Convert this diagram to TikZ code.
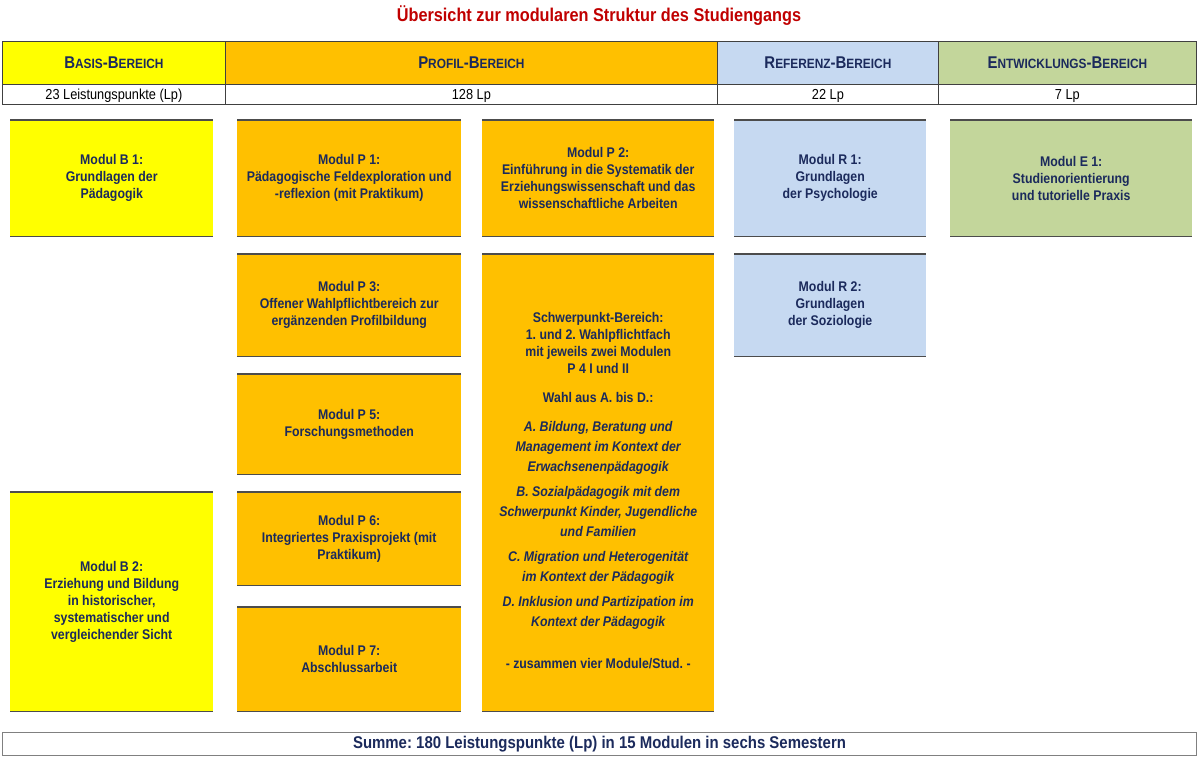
\documentclass[tikz,border=0pt]{standalone}
\usepackage{fontspec}
\setmainfont[FakeStretch=0.88]{Liberation Sans}
\usepackage{tikz}
\usetikzlibrary{positioning}
\definecolor{navy}{HTML}{1B2A5C}
\definecolor{titelrot}{HTML}{C00000}
\definecolor{basis}{HTML}{FFFF00}
\definecolor{profil}{HTML}{FFC000}
\definecolor{referenz}{HTML}{C6D9F1}
\definecolor{entwicklung}{HTML}{C3D69B}
\newcommand{\ksc}[2]{#1{\fontsize{13.5}{14}\selectfont #2}}
\frenchspacing

\begin{document}
\begin{tikzpicture}[x=1pt, y=-1pt,
		Kopf/.style={
			draw=black!75,
			line width=0.8pt,
			anchor=north west,
			inner sep=0pt,
			minimum height=43pt,
			text=navy,
			font=\bfseries\fontsize{17}{18}\selectfont
		},
		Lp/.style={
			draw=black!75,
			line width=0.8pt,
			anchor=north west,
			inner sep=0pt,
			minimum height=20pt,
			text depth=0pt,
			font=\fontsize{14.5}{15}\selectfont
		},
		Modul/.style={
			anchor=north west,
			inner sep=0pt,
			align=center,
			text=navy,
			font=\bfseries\fontsize{14}{17}\selectfont
		},
		Kante/.style={draw=black!70, line width=1.1pt}
		]
		\useasboundingbox (0,0) rectangle (1200,758);
		\node[text=titelrot, font=\bfseries\fontsize{18.5}{20}\selectfont] (titel) at (599,16) {Übersicht zur modularen Struktur des Studiengangs};
		% Kopfzeile
		\node[Kopf, fill=basis, minimum width=223pt] (kB) at (2,41) {\ksc{B}{ASIS}-\ksc{B}{EREICH}};
		\node[Kopf, fill=profil, minimum width=492pt] (kP) at (225,41) {\ksc{P}{ROFIL}-\ksc{B}{EREICH}};
		\node[Kopf, fill=referenz, minimum width=221pt] (kR) at (717,41) {\ksc{R}{EFERENZ}-\ksc{B}{EREICH}};
		\node[Kopf, fill=entwicklung, minimum width=258pt] (kE) at (938,41) {\ksc{E}{NTWICKLUNGS}-\ksc{B}{EREICH}};
		\node[Lp, minimum width=223pt] (lB) at (2,84) {23 Leistungspunkte (Lp)};
		\node[Lp, minimum width=492pt] (lP) at (225,84) {128 Lp};
		\node[Lp, minimum width=221pt] (lR) at (717,84) {22 Lp};
		\node[Lp, minimum width=258pt] (lE) at (938,84) {7 Lp};
		% Module
		\node[Modul, fill=basis, minimum width=203pt, minimum height=116pt] (B1) at (10,120) {Modul B 1:\\Grundlagen der\\Pädagogik};
		\node[Modul, fill=profil, minimum width=224pt, minimum height=116pt] (P1) at (237,120) {Modul P 1:\\Pädagogische Feldexploration und\\-reflexion (mit Praktikum)};
		\node[Modul, fill=profil, minimum width=232pt, minimum height=116pt] (P2) at (482,120) {Modul P 2:\\Einführung in die Systematik der\\Erziehungswissenschaft und das\\wissenschaftliche Arbeiten};
		\node[Modul, fill=referenz, minimum width=192pt, minimum height=116pt] (R1) at (734,120) {Modul R 1:\\Grundlagen\\der Psychologie};
		\node[Modul, fill=entwicklung, minimum width=242pt, minimum height=116pt] (E1) at (950,120) {Modul E 1:\\Studienorientierung\\und tutorielle Praxis};
		\node[Modul, fill=profil, minimum width=224pt, minimum height=102pt] (P3) at (237,254) {Modul P 3:\\Offener Wahlpflichtbereich zur\\ergänzenden Profilbildung};
		\node[Modul, fill=referenz, minimum width=192pt, minimum height=102pt] (R2) at (734,254) {Modul R 2:\\Grundlagen\\der Soziologie};
		\node[Modul, fill=profil, minimum width=232pt, minimum height=457pt] (P4) at (482,254) {\rule{0pt}{25pt}Schwerpunkt-Bereich:\\1. und 2. Wahlpflichtfach\\mit jeweils zwei Modulen\\P 4 I und II\\[12pt]
			Wahl aus A. bis D.:\\[12pt]
			\itshape A. Bildung, Beratung und\\[3pt]\itshape Management im Kontext der\\[3pt]\itshape Erwachsenenpädagogik\\[8pt]
			\itshape B. Sozialpädagogik mit dem\\[3pt]\itshape Schwerpunkt Kinder, Jugendliche\\[3pt]\itshape und Familien\\[8pt]
			\itshape C. Migration und Heterogenität\\[3pt]\itshape im Kontext der Pädagogik\\[8pt]
			\itshape D. Inklusion und Partizipation im\\[3pt]\itshape Kontext der Pädagogik\\[25pt]
			- zusammen vier Module/Stud. -};
		\node[Modul, fill=profil, minimum width=224pt, minimum height=100pt] (P5) at (237,374) {Modul P 5:\\Forschungsmethoden};
		\node[Modul, fill=basis, minimum width=203pt, minimum height=219pt] (B2) at (10,492) {Modul B 2:\\Erziehung und Bildung\\in historischer,\\systematischer und\\vergleichender Sicht};
		\node[Modul, fill=profil, minimum width=224pt, minimum height=93pt] (P6) at (237,492) {Modul P 6:\\Integriertes Praxisprojekt (mit\\Praktikum)};
		\node[Modul, fill=profil, minimum width=224pt, minimum height=104pt] (P7) at (237,607) {Modul P 7:\\Abschlussarbeit};
		\foreach \m in {B1,P1,P2,R1,E1,P3,R2,P4,P5,B2,P6,P7}
			\draw[Kante] (\m.north west) -- (\m.north east) (\m.south west) -- (\m.south east);
		% Summe
		\node[draw=black!50, line width=1pt, anchor=north west, inner sep=0pt, minimum width=1194pt, minimum height=23pt, text=navy, font=\bfseries\fontsize{17}{17}\selectfont] (summe) at (2,732) {Summe: 180 Leistungspunkte (Lp) in 15 Modulen in sechs Semestern};
	\end{tikzpicture}
\end{document}
